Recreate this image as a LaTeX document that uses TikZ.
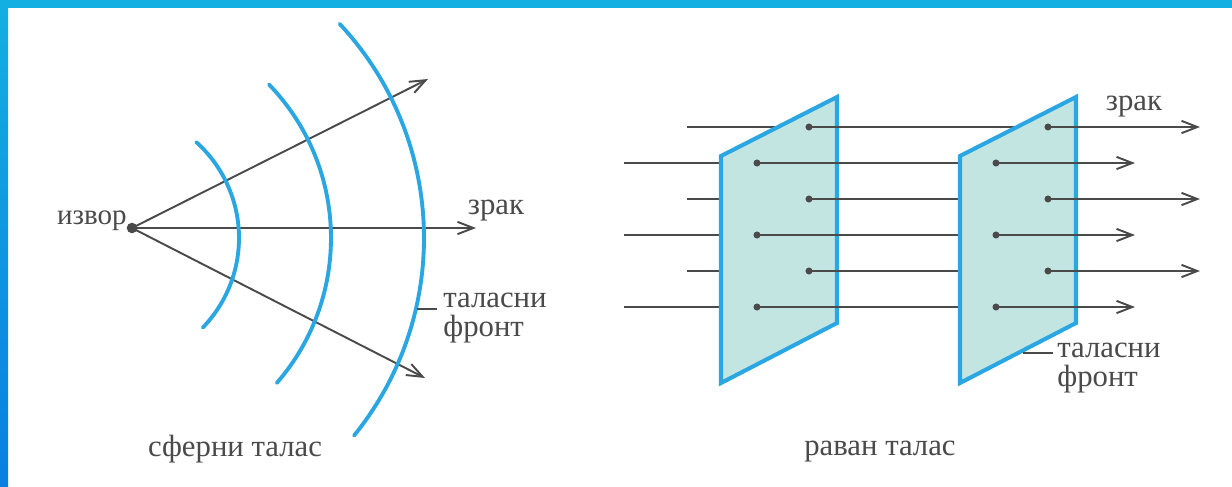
\documentclass[tikz,border=0pt]{standalone}
\usepackage{fontspec}
\setmainfont{Liberation Serif}
\usepackage{xcolor}
\usepackage{tikz}
\usetikzlibrary{arrows.meta}

\definecolor{frameblue}{HTML}{14AFE2}
\definecolor{framedeep}{HTML}{0A7FE0}
\definecolor{wavefront}{HTML}{2AA6E2}
\definecolor{raygray}{HTML}{4A4A4A}
\definecolor{planefill}{HTML}{C3E5E2}

\tikzset{
  ray/.style={raygray, line width=1.1pt},
  front/.style={wavefront, line width=2.2pt, line cap=round},
  plane/.style={draw=wavefront, fill=planefill, line width=2.3pt, line join=miter},
  lbl/.style={text=raygray, font=\fontsize{17.5}{17}\selectfont, inner sep=0pt},
  pierce/.style={circle, fill=raygray, inner sep=0pt, minimum size=4pt},
}

\begin{document}
\begin{tikzpicture}[x=0.02cm, y=-0.02cm, >={Straight Barb[length=9pt,width=7pt]}]
\useasboundingbox (0,0) rectangle (1232,487);

% Okvir
\fill[frameblue] (0,0) rectangle (1232,8);
\shade[top color=frameblue, bottom color=framedeep] (0,0) rectangle (8,487);

% Sferni talas: izvor i zraci
\node[circle, fill=raygray, inner sep=0pt, minimum size=6pt] (src) at (132,228) {};
\node[lbl, font=\fontsize{16.5}{16.5}\selectfont, anchor=base east] (izvor) at (127,224) {извор};
\coordinate (wc) at (110,238);
\coordinate (gore) at (428,79);
\coordinate (sred) at (476,228);
\coordinate (dole) at (425,378);
\draw[ray, ->] (src.center) -- (gore);
\draw[ray, ->] (src.center) -- (sred);
\draw[ray, ->] (src.center) -- (dole);

% Talasni frontovi (lukovi)
\draw[front] (wc) ++(-48:129) arc[start angle=-48, end angle=44, radius=129];
\draw[front] (wc) ++(-44:221) arc[start angle=-44, end angle=41, radius=221];
\draw[front] (wc) ++(-43:314) arc[start angle=-43, end angle=39, radius=314];

\node[lbl] (zrak1) at (496,211) {зрак};
\draw[raygray, line width=0.8pt] (417,309) -- (437,309);
\node[lbl, anchor=west, align=left] (front1) at (443,318) {таласни\\фронт};
\node[lbl] (sfer) at (235,449) {сферни талас};

% Ravan talas: zraci do prve ravni
\foreach \y/\xs/\xd in {127/687/809, 163/624/757, 199/687/809, 235/624/757, 271/687/809, 307/624/757}
  \draw[ray] (\xs,\y) -- (\xd,\y);

% Prva ravan
\draw[plane] (721,156) -- (837,97) -- (837,323) -- (721,383) -- cycle;
\foreach \y/\xd in {127/809, 163/757, 199/809, 235/757, 271/809, 307/757}
  \draw[ray] (\xd,\y) -- (\xd+239,\y);

% Druga ravan
\draw[plane] (960,156) -- (1076,97) -- (1076,323) -- (960,383) -- cycle;
\foreach \y/\xd/\xe in {127/809/1200, 163/757/1135, 199/809/1200, 235/757/1135, 271/809/1200, 307/757/1135} {
  \draw[ray, ->] (\xd+239,\y) -- (\xe,\y);
  \node[pierce] at (\xd,\y) {};
  \node[pierce] at (\xd+239,\y) {};
}

\node[lbl] (zrak2) at (1134,107) {зрак};
\draw[raygray, line width=0.8pt] (1023,353) -- (1053,353);
\node[lbl, anchor=west, align=left] (front2) at (1057,368) {таласни\\фронт};
\node[lbl] (ravan) at (880,452) {раван талас};
\end{tikzpicture}
\end{document}
